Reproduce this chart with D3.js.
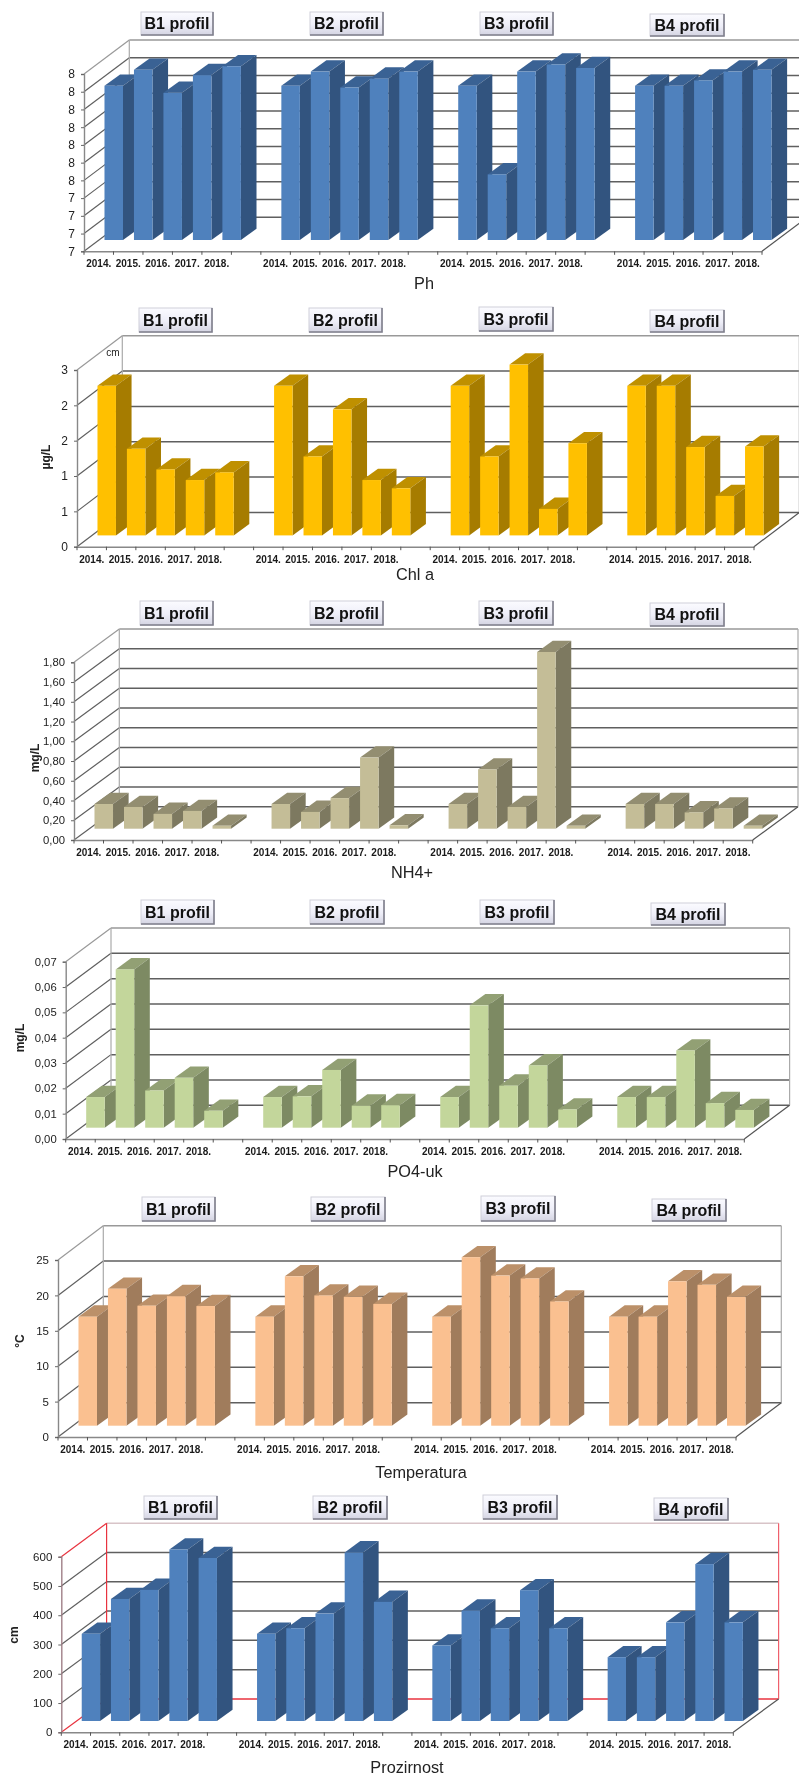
<!DOCTYPE html>
<html><head><meta charset="utf-8">
<script src="https://cdnjs.cloudflare.com/ajax/libs/d3/7.8.5/d3.min.js"></script>
<style>
html,body{margin:0;padding:0;background:#fff;overflow:hidden}
svg{display:block;filter:blur(.4px)}
text{font-family:"Liberation Sans",Arial,sans-serif}
</style></head><body>
<script>
// ---- data
const profiles = ["B1 profil","B2 profil","B3 profil","B4 profil"];
const years = ["2014.","2015.","2016.","2017.","2018."];

const phValues   = [[7.97,8.06,7.93,8.03,8.08],[7.97,8.05,7.96,8.01,8.05],[7.97,7.47,8.05,8.09,8.07],[7.97,7.97,8.00,8.05,8.06]];
const chlValues  = [[2.54,1.47,1.12,0.94,1.07],[2.54,1.34,2.14,0.94,0.80],[2.54,1.34,2.90,0.45,1.565],[2.54,2.54,1.50,0.67,1.51]];
const nh4Values  = [[0.25,0.22,0.15,0.18,0.03],[0.25,0.17,0.31,0.72,0.035],[0.25,0.60,0.22,1.79,0.03],[0.25,0.25,0.165,0.205,0.03]];
const po4Values  = [[0.0121,0.0625,0.0147,0.0197,0.0067],[0.0121,0.0124,0.0228,0.0087,0.0089],[0.0121,0.0483,0.0166,0.0246,0.0072],[0.0121,0.0121,0.0305,0.0097,0.007]];
const tempValues = [[15.4,19.35,16.95,18.3,16.9],[15.4,21.1,18.4,18.2,17.2],[15.4,23.8,21.2,20.8,17.55],[15.4,15.4,20.4,19.9,18.2]];
const prozValues = [[298,417,448,586,557],[298,317,367,576,407],[258,377,317,447,317],[218,218,337,536,337]];

const phTicks   = [7.1,7.2,7.3,7.4,7.5,7.6,7.7,7.8,7.9,8.0,8.1];
const phLabels  = ["7","7","7","7","8","8","8","8","8","8","8"];
const chlTicks  = [0,0.6,1.2,1.8,2.4,3.0];
const chlLabels = ["0","1","1","2","2","3"];
const nh4Ticks  = [0,0.2,0.4,0.6,0.8,1.0,1.2,1.4,1.6,1.8];
const nh4Labels = ["0,00","0,20","0,40","0,60","0,80","1,00","1,20","1,40","1,60","1,80"];
const po4Ticks  = [0,0.01,0.02,0.03,0.04,0.05,0.06,0.07];
const po4Labels = ["0,00","0,01","0,02","0,03","0,04","0,05","0,06","0,07"];
const tempTicks = [0,5,10,15,20,25];
const tempLabels= ["0","5","10","15","20","25"];
const prozTicks = [0,100,200,300,400,500,600];
const prozLabels= ["0","100","200","300","400","500","600"];

// ---- layout and style of the six panels
const panels = [
 {values:phValues,ticks:phTicks,labels:phLabels,title:"Ph",unit:"",x0:84,xR:762,y0:251.3,yT:74,backTop:40,tx:424,ty:289,ux:0,uy:0,
  c:["#4f81bd","#3a6294","#32547f"],fs:12,
  btn:[[141,213,12,35],[310,383,12,35],[480,553,12,35],[650,724,14,36]]},
 {values:chlValues,ticks:chlTicks,labels:chlLabels,title:"Chl a",unit:"µg/L",x0:77,xR:754,y0:546.7,yT:370,backTop:335.7,tx:415,ty:580,ux:46,uy:457,
  c:["#ffc000","#bf9000","#a67c00"],fs:12,extra:true,
  btn:[[139,212,308,332],[309,382,308,332],[479,553,307,331],[650,724,310,332]]},
 {values:nh4Values,ticks:nh4Ticks,labels:nh4Labels,title:"NH4+",unit:"mg/L",x0:74,xR:752.7,y0:840,yT:662.3,backTop:629,tx:412,ty:878,ux:35,uy:758,
  c:["#c4bd97","#938e71","#7d7960"],fs:11.3,
  btn:[[140,213,601,625],[310,383,601,625],[479,553,601,625],[650,724,603,626]]},
 {values:po4Values,ticks:po4Ticks,labels:po4Labels,title:"PO4-uk",unit:"mg/L",x0:65.7,xR:744.3,y0:1139,yT:961.7,backTop:928,tx:415,ty:1177,ux:20,uy:1038,
  c:["#c3d69b","#92a074","#7d8a63"],fs:11.3,
  btn:[[141,214,900,924],[310,384,900,924],[480,554,900,924],[651,725,903,925]]},
 {values:tempValues,ticks:tempTicks,labels:tempLabels,title:"Temperatura",unit:"°C",x0:58,xR:736,y0:1437,yT:1260,backTop:1225.7,tx:421,ty:1478,ux:20,uy:1341,
  c:["#fac090","#bb9069","#a07c5c"],fs:11.5,
  btn:[[142,215,1197,1221],[311,385,1197,1221],[481,555,1196,1221],[652,726,1199,1221]]},
 {values:prozValues,ticks:prozTicks,labels:prozLabels,title:"Prozirnost",unit:"cm",x0:61.3,xR:733.3,y0:1732.3,yT:1556.7,backTop:1523.3,tx:407,ty:1773,ux:14,uy:1635,
  c:["#4f81bd","#3a6294","#32547f"],fs:11.5,red:true,
  btn:[[144,217,1496,1519],[313,387,1496,1519],[483,557,1495,1519],[654,728,1498,1520]]}
];

const W=799,H=1776, DX=45.3, BX=15.6, BY=11.3, SHIFT_X=15, SHIFT_Y=11.3;
const svg=d3.select("body").append("svg").attr("width",W).attr("height",H).attr("viewBox",`0 0 ${W} ${H}`);
const defs=svg.append("defs");
const grad=defs.append("linearGradient").attr("id","btn").attr("x1",0).attr("y1",0).attr("x2",0).attr("y2",1);
grad.append("stop").attr("offset","0").attr("stop-color","#fbfbff");
grad.append("stop").attr("offset","0.55").attr("stop-color","#eeeef8");
grad.append("stop").attr("offset","1").attr("stop-color","#d4d4e2");

const slots=[];
profiles.forEach((p,pi)=>{years.forEach(y=>slots.push(p+"|"+y)); if(pi<profiles.length-1) slots.push(p+"|");});

panels.forEach(P=>{
  const g=svg.append("g");
  const ext=d3.extent(P.ticks);
  const y=d3.scaleLinear().domain(ext).range([P.y0,P.yT]);
  const x=d3.scaleBand().domain(slots).range([P.x0,P.xR]).paddingInner(0.372).paddingOuter(0.186);
  const dy=P.backTop-P.yT;
  const xB=P.x0+DX, xBR=P.xR+DX;
  const redC="#e8333f";

  g.selectAll("line.grid").data(P.ticks).join("line").attr("class","grid")
    .attr("x1",xB).attr("x2",xBR).attr("y1",d=>y(d)+dy).attr("y2",d=>y(d)+dy)
    .attr("stroke",d=>{
      if(d===ext[1]) return P.red?"#d8c4c8":"#999";
      if(d===ext[0]&&P.red) return redC;
      return "#5f5f5f";})
    .attr("stroke-width",1.5);
  g.selectAll("line.side").data(P.ticks).join("line").attr("class","side")
    .attr("x1",P.x0).attr("x2",xB).attr("y1",d=>y(d)).attr("y2",d=>y(d)+dy)
    .attr("stroke",d=>{
      if(P.red&&(d===ext[0]||d===ext[1])) return redC;
      return d===ext[1]?"#999":"#5f5f5f";})
    .attr("stroke-width",1.2);
  g.append("line").attr("x1",xB).attr("x2",xB).attr("y1",P.backTop).attr("y2",P.y0+dy)
    .attr("stroke",P.red?redC:"#aaa").attr("stroke-width",1.2);
  g.append("line").attr("x1",xBR).attr("x2",xBR).attr("y1",P.backTop).attr("y2",P.y0+dy)
    .attr("stroke",P.red?"#f0606c":"#aaa").attr("stroke-width",1.2);
  g.append("line").attr("x1",P.xR).attr("x2",xBR).attr("y1",P.y0).attr("y2",P.y0+dy)
    .attr("stroke","#555").attr("stroke-width",1.2);

  const yAxis=d3.axisLeft(y).tickValues(P.ticks).tickSize(3).tickPadding(6)
    .tickFormat(d=>P.labels[P.ticks.indexOf(d)]);
  const ya=g.append("g").attr("transform",`translate(${P.x0},0)`).call(yAxis);
  ya.select(".domain").attr("stroke",P.red?"#a08088":"#888").attr("stroke-width",1.4);
  ya.selectAll(".tick line").attr("stroke","#666");
  ya.selectAll("text").attr("font-size",P.fs).attr("fill","#222").attr("font-family",'"Liberation Sans",Arial,sans-serif');

  const xAxis=d3.axisBottom(x).tickSize(0).tickPadding(9)
    .tickFormat(d=>d.split("|")[1]);
  const xa=g.append("g").attr("transform",`translate(0,${P.y0})`).call(xAxis);
  xa.select(".domain").attr("stroke","#888").attr("stroke-width",1.5);
  xa.selectAll("text").attr("font-size",10).attr("font-weight","bold").attr("fill","#1a1a1a")
    .attr("font-family",'"Liberation Sans",Arial,sans-serif');
  const edge=x.step()*x.paddingOuter();
  const edges=slots.map(s=>x(s)-edge).concat([P.xR]);
  g.selectAll("line.xt").data(edges).join("line").attr("class","xt")
    .attr("x1",d=>d).attr("x2",d=>d).attr("y1",P.y0).attr("y2",P.y0+3.5)
    .attr("stroke","#555").attr("stroke-width",1);

  const rows=[];
  profiles.forEach((p,pi)=>years.forEach((yr,yi)=>rows.push({k:p+"|"+yr,v:P.values[pi][yi]})));
  const base=y(ext[0])-SHIFT_Y, w=x.bandwidth();
  const bars=g.selectAll("g.bar").data(rows).join("g").attr("class","bar");
  const X=d=>x(d.k)+SHIFT_X, T=d=>y(d.v)-SHIFT_Y;
  bars.append("path").attr("fill",P.c[1]).attr("d",d=>{
    const a=X(d),t=T(d);
    return `M${a},${t}L${a+BX},${t-BY}L${a+w+BX},${t-BY}L${a+w},${t}Z`;});
  bars.append("path").attr("fill",P.c[2]).attr("d",d=>{
    const a=X(d)+w,t=T(d);
    return `M${a},${t}L${a+BX},${t-BY}L${a+BX},${base-BY}L${a},${base}Z`;});
  bars.append("rect").attr("fill",P.c[0]).attr("x",X).attr("y",T).attr("width",w).attr("height",d=>base-T(d));

  g.append("text").attr("x",P.tx).attr("y",P.ty).attr("text-anchor","middle")
    .attr("font-size",16.3).attr("fill","#222").text(P.title);
  if(P.unit) g.append("text").attr("transform",`translate(${P.ux},${P.uy}) rotate(-90)`)
    .attr("text-anchor","middle").attr("dy","0.35em").attr("font-size",12).attr("font-weight","bold").attr("fill","#222").text(P.unit);
  if(P.extra) g.append("text").attr("x",113).attr("y",356).attr("text-anchor","middle")
    .attr("font-size",10).attr("fill","#222").text("cm");

  const b=g.selectAll("g.btn").data(profiles).join("g").attr("class","btn");
  b.append("rect").attr("x",(d,i)=>P.btn[i][0]).attr("y",(d,i)=>P.btn[i][2])
    .attr("width",(d,i)=>P.btn[i][1]-P.btn[i][0]).attr("height",(d,i)=>P.btn[i][3]-P.btn[i][2])
    .attr("fill","url(#btn)").attr("stroke","#cfcfda").attr("stroke-width",1);
  b.append("path").attr("fill","none").attr("stroke","#7f7f8c").attr("stroke-width",1.6)
    .attr("d",(d,i)=>{const r=P.btn[i];return `M${r[1]},${r[2]}L${r[1]},${r[3]}L${r[0]},${r[3]}`;});
  b.append("text").attr("x",(d,i)=>(P.btn[i][0]+P.btn[i][1])/2).attr("y",(d,i)=>(P.btn[i][2]+P.btn[i][3])/2)
    .attr("dy","0.35em").attr("text-anchor","middle").attr("font-size",16).attr("font-weight","bold").attr("fill","#111").text(d=>d);
});
</script>
</body></html>
